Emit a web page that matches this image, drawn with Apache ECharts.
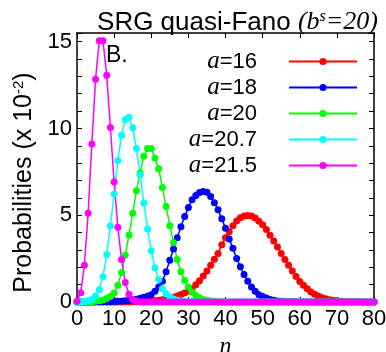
<!DOCTYPE html>
<html>
<head>
<meta charset="utf-8">
<script src="https://cdn.jsdelivr.net/npm/echarts@6/dist/echarts.min.js"></script>
<style>
  html, body { margin: 0; padding: 0; background: #fff; }
  #main { width: 386px; height: 352px; }
</style>
</head>
<body>
<div id="main"></div>
<script>
// n = 0 .. 80, values in units of 10^-2
const nValues = Array.from({ length: 81 }, (_, i) => i);

const seriesNames = ['a=16', 'a=18', 'a=20', 'a=20.7', 'a=21.5'];
const seriesColors = ['#ff0000', '#0000ff', '#00ff00', '#00ffff', '#ff00ff'];

// a=16 (red)
const probA16 = [
  0, 0, 0, 0, 0, 0, 0, 0, 0, 0,
  0, 0, 0, 0, 0, 0.01, 0.01, 0.02, 0.03, 0.04,
  0.05, 0.07, 0.1, 0.13, 0.17, 0.22, 0.28, 0.35, 0.43, 0.52,
  0.62, 0.77, 1.0, 1.22, 1.5, 1.78, 2.12, 2.46, 2.8, 3.3,
  3.7, 4.05, 4.4, 4.67, 4.86, 4.96, 4.98, 4.95, 4.84, 4.66,
  4.45, 4.18, 3.85, 3.52, 3.17, 2.8, 2.45, 2.12, 1.78, 1.47,
  1.18, 0.96, 0.77, 0.58, 0.45, 0.34, 0.25, 0.19, 0.13, 0.1,
  0.07, 0.05, 0.03, 0.02, 0.01, 0.01, 0, 0, 0, 0,
  0
];
// a=18 (blue)
const probA18 = [
  0, 0, 0, 0, 0, 0.01, 0.01, 0.01, 0.02, 0.02,
  0.03, 0.04, 0.05, 0.07, 0.09, 0.12, 0.16, 0.21, 0.27, 0.33,
  0.42, 0.62, 0.87, 1.2, 1.75, 2.4, 3.05, 3.7, 4.34, 4.92,
  5.44, 5.89, 6.14, 6.31, 6.37, 6.33, 6.08, 5.72, 5.31, 4.79,
  4.25, 3.63, 3.09, 2.51, 2.03, 1.58, 1.2, 0.87, 0.62, 0.42,
  0.31, 0.23, 0.15, 0.1, 0.06, 0.04, 0.03, 0.02, 0.01, 0.01,
  0, 0, 0, 0, 0, 0, 0, 0, 0, 0,
  0, 0, 0, 0, 0, 0, 0, 0, 0, 0,
  0
];
// a=20 (green)
const probA20 = [
  0, 0, 0, 0, 0.02, 0.04, 0.07, 0.12, 0.2, 0.32,
  0.52, 0.96, 1.7, 2.7, 3.86, 5.11, 6.41, 7.43, 8.4, 8.84,
  8.84, 8.3, 7.68, 6.6, 5.5, 4.4, 3.42, 2.45, 1.74, 1.25,
  0.87, 0.58, 0.38, 0.25, 0.15, 0.1, 0.06, 0.04, 0.02, 0.01,
  0, 0, 0, 0, 0, 0, 0, 0, 0, 0,
  0, 0, 0, 0, 0, 0, 0, 0, 0, 0,
  0, 0, 0, 0, 0, 0, 0, 0, 0, 0,
  0, 0, 0, 0, 0, 0, 0, 0, 0, 0,
  0
];
// a=20.7 (cyan)
const probA207 = [
  0, 0.01, 0.03, 0.08, 0.15, 0.35, 0.71, 1.45, 2.74, 4.4,
  6.23, 8.16, 9.61, 10.52, 10.65, 10.04, 8.84, 7.33, 5.71, 4.2,
  2.95, 1.97, 1.29, 0.77, 0.48, 0.3, 0.18, 0.1, 0.06, 0.03,
  0.02, 0.01, 0, 0, 0, 0, 0, 0, 0, 0,
  0, 0, 0, 0, 0, 0, 0, 0, 0, 0,
  0, 0, 0, 0, 0, 0, 0, 0, 0, 0,
  0, 0, 0, 0, 0, 0, 0, 0, 0, 0,
  0, 0, 0, 0, 0, 0, 0, 0, 0, 0,
  0
];
// a=21.5 (magenta)
const probA215 = [
  0.05, 0.54, 2.12, 5.11, 9.11, 12.84, 15.05, 15.05, 13.07, 10.06,
  6.91, 4.3, 2.45, 1.12, 0.45, 0.15, 0.05, 0.02, 0, 0,
  0, 0, 0, 0, 0, 0, 0, 0, 0, 0,
  0, 0, 0, 0, 0, 0, 0, 0, 0, 0,
  0, 0, 0, 0, 0, 0, 0, 0, 0, 0,
  0, 0, 0, 0, 0, 0, 0, 0, 0, 0,
  0, 0, 0, 0, 0, 0, 0, 0, 0, 0,
  0, 0, 0, 0, 0, 0, 0, 0, 0, 0,
  0
];

const allProbs = [probA16, probA18, probA20, probA207, probA215];

const sans = 'Liberation Sans';
const serif = 'Liberation Serif';

const myChart = echarts.init(document.getElementById('main'));

const xAxisBase = {
  type: 'value',
  min: 0,
  max: 80,
  interval: 10,
  axisLine: { show: true, onZero: false, lineStyle: { color: '#000', width: 1.5 } },
  axisTick: { show: true, inside: true, length: 5, lineStyle: { color: '#000', width: 1 } },
  splitLine: { show: false }
};
const yAxisBase = {
  type: 'value',
  min: 0,
  max: 15.5,
  interval: 1,
  axisLine: { show: true, onZero: false, lineStyle: { color: '#000', width: 1.5 } },
  axisTick: { show: true, inside: true, length: 5, lineStyle: { color: '#000', width: 1 } },
  splitLine: { show: false }
};

const option = {
  animation: false,
  backgroundColor: '#fff',
  title: {
    text: '{a|SRG quasi-Fano }{b|(b}{c|s}{b|=20)}',
    right: 8,
    top: 9,
    padding: 0,
    textStyle: {
      rich: {
        a: { fontFamily: sans, fontWeight: 'normal', fontSize: 26, color: '#000', lineHeight: 27 },
        b: { fontFamily: serif, fontWeight: 'normal', fontStyle: 'italic', fontSize: 26, color: '#000', lineHeight: 27 },
        c: { fontFamily: serif, fontWeight: 'normal', fontStyle: 'italic', fontSize: 16, color: '#000', verticalAlign: 'top', lineHeight: 27 }
      }
    }
  },
  legend: {
    orient: 'vertical',
    align: 'right',
    right: 28,
    top: 49,
    padding: 0,
    itemGap: 1,
    itemWidth: 68,
    itemHeight: 9,
    data: seriesNames,
    formatter: name => '{i|a}{t|' + name.slice(1) + '}{p|}',
    textStyle: {
      rich: {
        i: { fontFamily: serif, fontStyle: 'italic', fontSize: 25, color: '#000', lineHeight: 22 },
        t: { fontFamily: sans, fontSize: 22, color: '#000', lineHeight: 22 },
        p: { width: 27, lineHeight: 22 }
      }
    }
  },
  graphic: [
    {
      type: 'text',
      left: 106,
      top: 44,
      style: { text: 'B.', font: '23px "Liberation Sans"', fill: '#000' }
    }
  ],
  grid: {
    left: 77,
    right: 12,
    top: 33,
    bottom: 50,
    outerBoundsMode: 'none'
  },
  xAxis: [
    Object.assign({}, xAxisBase, {
      position: 'bottom',
      name: 'n',
      nameLocation: 'middle',
      nameGap: 31,
      nameTextStyle: { fontFamily: serif, fontStyle: 'italic', fontSize: 24, color: '#000' },
      axisLabel: { fontFamily: sans, fontSize: 22, color: '#000', margin: 6 }
    }),
    Object.assign({}, xAxisBase, {
      position: 'top',
      axisLabel: { show: false }
    })
  ],
  yAxis: [
    Object.assign({}, yAxisBase, {
      position: 'left',
      name: 'Probabilities (x 10{sup|-2})',
      nameLocation: 'middle',
      nameGap: 29,
      nameTextStyle: {
        fontFamily: sans,
        fontSize: 25,
        color: '#000',
        padding: [0, 30, 0, 0],
        rich: {
          sup: { fontFamily: sans, fontSize: 15, color: '#000', verticalAlign: 'top' }
        }
      },
      axisLabel: {
        fontFamily: sans,
        fontSize: 22,
        color: '#000',
        margin: 5,
        formatter: v => (v % 5 === 0 ? String(v) : '')
      }
    }),
    Object.assign({}, yAxisBase, {
      position: 'right',
      axisLabel: { show: false }
    })
  ],
  series: seriesNames.map((name, k) => ({
    name: name,
    type: 'line',
    xAxisIndex: 0,
    yAxisIndex: 0,
    data: nValues.map(n => [n, allProbs[k][n]]),
    symbol: 'circle',
    symbolSize: 7,
    showAllSymbol: true,
    color: seriesColors[k],
    lineStyle: { width: 1.5, color: seriesColors[k] },
    itemStyle: { color: seriesColors[k] }
  }))
};

myChart.setOption(option);
</script>
</body>
</html>
